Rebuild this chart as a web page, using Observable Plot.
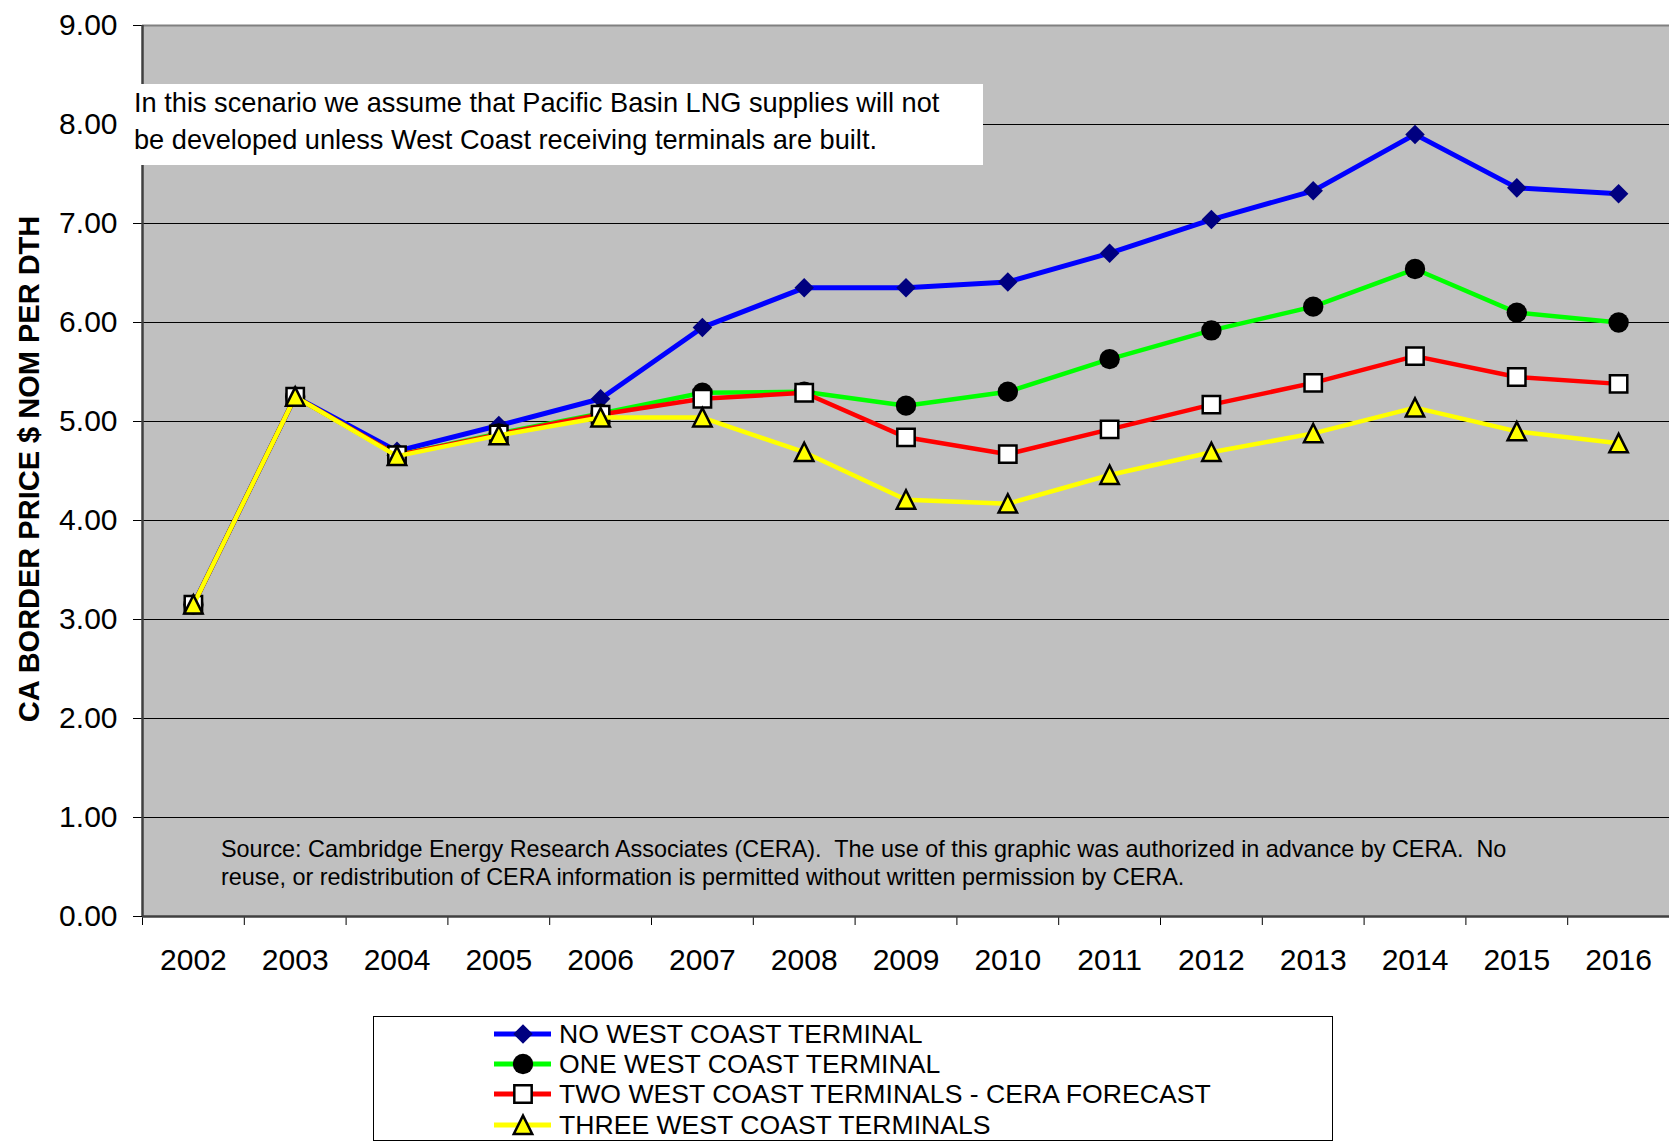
<!DOCTYPE html>
<html>
<head>
<meta charset="utf-8">
<script src="https://cdn.jsdelivr.net/npm/d3@7"></script>
<script src="https://cdn.jsdelivr.net/npm/@observablehq/plot@0.6"></script>
<style>
  body { margin: 0; background: #fff; font-family: "Liberation Sans", Arial, sans-serif; color: #000; }
  #wrap { position: relative; width: 1669px; height: 1144px; }
  #note { position: absolute; left: 125px; top: 84px; width: 849px; height: 81px; padding-left: 9px;
          background: #fff; font-size: 27.2px; line-height: 37px; white-space: nowrap; }
  #source { position: absolute; left: 221px; top: 835px; font-size: 23.4px; line-height: 28px; white-space: nowrap; }
  #legend { position: absolute; left: 373px; top: 1016px; width: 960px; height: 125px;
            border: 1px solid #000; box-sizing: border-box; background: #fff; }
  .lrow { position: absolute; left: 120px; height: 30px; display: flex; align-items: center; }
  .lrow span { font-size: 26.6px; line-height: 30px; margin-left: 8px; white-space: nowrap; }
</style>
</head>
<body>
<div id="wrap">
  <div id="chart"></div>
  <div id="note">In this scenario we assume that Pacific Basin LNG supplies will not<br>be developed unless West Coast receiving terminals are built.</div>
  <div id="source">Source: Cambridge Energy Research Associates (CERA).&nbsp; The use of this graphic was authorized in advance by CERA.&nbsp; No<br>reuse, or redistribution of CERA information is permitted without written permission by CERA.</div>
  <div id="legend"></div>
</div>
<script>
// ---- data ----
const years = [2002, 2003, 2004, 2005, 2006, 2007, 2008, 2009, 2010, 2011, 2012, 2013, 2014, 2015, 2016];
const noTerminal     = [3.15, 5.25, 4.70, 4.96, 5.23, 5.95, 6.35, 6.35, 6.41, 6.70, 7.04, 7.33, 7.90, 7.36, 7.30];
const oneTerminal    = [3.15, 5.25, 4.66, 4.88, 5.08, 5.29, 5.30, 5.16, 5.30, 5.63, 5.92, 6.16, 6.54, 6.10, 6.00];
const twoTerminals   = [3.15, 5.25, 4.66, 4.87, 5.07, 5.23, 5.29, 4.84, 4.67, 4.92, 5.17, 5.39, 5.66, 5.45, 5.38];
const threeTerminals = [3.15, 5.25, 4.65, 4.86, 5.04, 5.04, 4.69, 4.21, 4.17, 4.46, 4.69, 4.88, 5.14, 4.90, 4.78];
const seriesNames = ["NO WEST COAST TERMINAL", "ONE WEST COAST TERMINAL",
                     "TWO WEST COAST TERMINALS - CERA FORECAST", "THREE WEST COAST TERMINALS"];
const seriesValues = [noTerminal, oneTerminal, twoTerminals, threeTerminals];
const yTicks = [0, 1, 2, 3, 4, 5, 6, 7, 8, 9];
const yLabel = "CA BORDER PRICE $ NOM PER DTH";

// ---- styles ----
const triangle = {
  draw(ctx, size) {
    const r = Math.sqrt(size / Math.PI);
    ctx.moveTo(0, -r * 1.0);
    ctx.lineTo(r * 0.98, r * 0.95);
    ctx.lineTo(-r * 0.98, r * 0.95);
    ctx.closePath();
  }
};
const styles = [
  {line: "#0000ff", lw: 5,   symbol: "diamond2", r: 8.8,  fill: "#000080", stroke: "none",  sw: 0},
  {line: "#00ff00", lw: 4.5, symbol: "circle",   r: 10.2, fill: "#000000", stroke: "none",  sw: 0},
  {line: "#ff0000", lw: 4.5, symbol: "square",   r: 9.8,  fill: "#ffffff", stroke: "#000", sw: 2.5},
  {line: "#ffff00", lw: 4.5, symbol: triangle,   r: 9.4,  fill: "#ffff00", stroke: "#000", sw: 2.5}
];

const table = seriesValues.map((vals, s) => years.map((year, i) => ({year, value: vals[i], series: seriesNames[s]})));
const xBounds = years.map(y => y - 0.5).concat([years[years.length - 1] + 0.5]);

const seriesMarks = table.flatMap((rows, s) => {
  const st = styles[s];
  return [
    Plot.line(rows, {x: "year", y: "value", stroke: st.line, strokeWidth: st.lw, strokeLinejoin: "round"}),
    Plot.dot(rows, {x: "year", y: "value", symbol: st.symbol, r: st.r, fill: st.fill,
                    stroke: st.stroke, strokeWidth: st.sw})
  ];
});

const chart = Plot.plot({
  width: 1669, height: 1000,
  marginLeft: 142, marginRight: 0, marginTop: 25, marginBottom: 84,
  style: {fontFamily: '"Liberation Sans", Arial, sans-serif', background: "transparent", color: "#000", overflow: "visible"},
  x: {domain: [xBounds[0], xBounds[xBounds.length - 1]]},
  y: {domain: [0, 9]},
  marks: [
    Plot.frame({fill: "#c0c0c0", stroke: null}),
    Plot.ruleY(yTicks.filter(d => d > 0 && d < 9), {stroke: "#000", strokeWidth: 1}),
    Plot.ruleY([9], {stroke: "#808080", strokeWidth: 2}),
    Plot.axisY({ticks: yTicks, tickFormat: d3.format(".2f"), tickSize: 9, tickPadding: 16, fontSize: 30, label: null}),
    Plot.axisX({ticks: years, tickSize: 0, tickPadding: 32, tickFormat: d => String(d), fontSize: 30, label: null}),
    Plot.axisX({ticks: xBounds, tickSize: 9, tickFormat: () => "", label: null}),
    Plot.ruleX([xBounds[0]], {stroke: "#404040", strokeWidth: 2.5}),
    Plot.ruleY([0], {stroke: "#404040", strokeWidth: 2.5}),
    ...seriesMarks,
    Plot.text([yLabel], {text: d => d, frameAnchor: "left", textAnchor: "middle", dx: -113, dy: -2,
                         rotate: -90, fontSize: 29, fontWeight: "bold"})
  ]
});
document.getElementById("chart").appendChild(chart);

// ---- legend ----
const legend = d3.select("#legend");
seriesNames.forEach((name, s) => {
  const st = styles[s];
  const row = legend.append("div").attr("class", "lrow").style("top", (2 + s * 30.2) + "px");
  const svg = row.append("svg").attr("width", 57).attr("height", 30);
  svg.append("line").attr("x1", 0).attr("x2", 57).attr("y1", 15).attr("y2", 15)
     .attr("stroke", st.line).attr("stroke-width", 5);
  const symType = typeof st.symbol === "string"
    ? {diamond2: d3.symbolDiamond2, circle: d3.symbolCircle, square: d3.symbolSquare}[st.symbol]
    : st.symbol;
  svg.append("path").attr("transform", "translate(29,15)")
     .attr("d", d3.symbol(symType, Math.PI * st.r * st.r)())
     .attr("fill", st.fill).attr("stroke", st.stroke).attr("stroke-width", st.sw);
  row.append("span").text(name);
});
</script>
</body>
</html>
